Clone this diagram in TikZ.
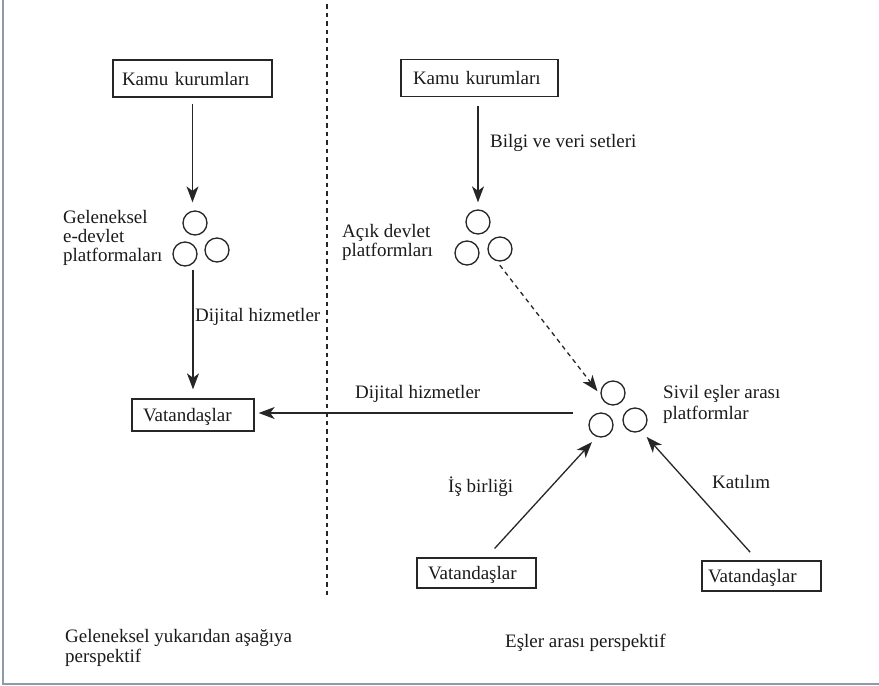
\documentclass[tikz,border=0pt]{standalone}
\usepackage{fontspec}
\setmainfont{Liberation Serif}
\usetikzlibrary{arrows.meta}
\definecolor{ink}{HTML}{1A1A1A}
\definecolor{linec}{HTML}{262626}
\definecolor{framec}{HTML}{8E99AE}

\begin{document}
\begin{tikzpicture}[x=1pt,y=-1pt,
  every node/.style={font=\fontsize{19}{19}\selectfont, text=ink},
  lbl/.style={anchor=base west, inner sep=0pt, align=left},
  box/.style={draw=linec, line width=1.3pt, inner ysep=0pt, text height=13pt, text depth=0pt, align=left},
  plat/.style={draw=linec, line width=1.3pt, circle, minimum size=24pt, inner sep=0pt},
  arr/.style={draw=linec, line width=1.3pt, -{Stealth[length=16pt,width=12pt,inset=4.5pt]}},
  dasharr/.style={arr, dash pattern=on 4.5pt off 4pt},
]
\useasboundingbox (0,0) rectangle (879,686);

% frame (left and bottom edges only)
\draw[framec, line width=2pt] (3,0) -- (3,684) -- (879,684);

% divider between the two perspectives
\coordinate (divTop) at (327,4);
\coordinate (divBot) at (327,595);
\draw[linec, line width=1.3pt, dash pattern=on 4.5pt off 4pt] (divTop) -- (divBot);

% ---- traditional top-down side ----
\node[box, minimum height=37pt, text width=141pt, inner xsep=9pt] (kamuL) at (192.5,78.5) {Kamu kurumları};
\node[plat] (cL1) at (195,223) {};
\node[plat] (cL2) at (185,254) {};
\node[plat] (cL3) at (217,250) {};
\node[box, minimum height=32pt, text width=100pt, inner xsep=11pt] (vatL) at (193,415) {Vatandaşlar};

% multi-line labels are anchored at the baseline of their last line
\node[lbl] (tGel) at (63,261) {Geleneksel\\e-devlet\\platformaları};
\node[lbl] (tDijL) at (195,321) {Dijital hizmetler};

\draw[arr, shorten <=6pt, shorten >=8pt] (kamuL.south) -- (kamuL.south |- cL1.north);
\draw[arr, shorten <=3pt, shorten >=9pt] (vatL.north |- cL2.south) -- (vatL.north);

% ---- peer-to-peer side ----
\node[box, minimum height=37pt, text width=133pt, inner xsep=12pt] (kamuR) at (479.5,78) {Kamu kurumları};
\node[plat] (cR1) at (478,222) {};
\node[plat] (cR2) at (467,253) {};
\node[plat] (cR3) at (500,249) {};
\node[plat] (cP1) at (613,393) {};
\node[plat] (cP2) at (601,425) {};
\node[plat] (cP3) at (635,420) {};
\node[box, minimum height=30pt, text width=97pt, inner xsep=11pt] (vatB1) at (476.5,573) {Vatandaşlar};
\node[box, minimum height=30pt, text width=107pt, inner xsep=6pt] (vatB2) at (761.5,576) {Vatandaşlar};
\coordinate (hz) at (573,413);

\node[lbl] (tBilgi) at (490,147) {Bilgi ve veri setleri};
\node[lbl] (tAcik) at (342,256) {Açık devlet\\platformları};
\node[lbl] (tDijR) at (355,398) {Dijital hizmetler};
\node[lbl, font=\fontsize{19}{21}\selectfont] (tSivil) at (663,419) {Sivil eşler arası\\platformlar};
\node[lbl] (tIs) at (448,492) {İş birliği};
\node[lbl] (tKat) at (712,488) {Katılım};

\draw[arr, shorten <=9pt, shorten >=7pt] (kamuR.south -| cR1) -- (cR1.north);
\draw[dasharr, shorten <=5pt, shorten >=5pt] (cR3.255) -- (cP1.190);
\draw[arr, shorten >=4pt] (hz) -- (hz -| vatL.east);
\draw[arr, shorten <=12pt, shorten >=7pt] ([xshift=10pt]vatB1.north) -- (cP2.250);
\draw[arr, shorten <=11pt, shorten >=8pt] ([xshift=-4pt]vatB2.north) -- (cP3.-60);

% ---- captions ----
\node[lbl, font=\fontsize{19}{20}\selectfont] (tGelB) at (65,662) {Geleneksel yukarıdan aşağıya\\perspektif};
\node[lbl] (tEs) at (505,647) {Eşler arası perspektif};
\end{tikzpicture}
\end{document}
